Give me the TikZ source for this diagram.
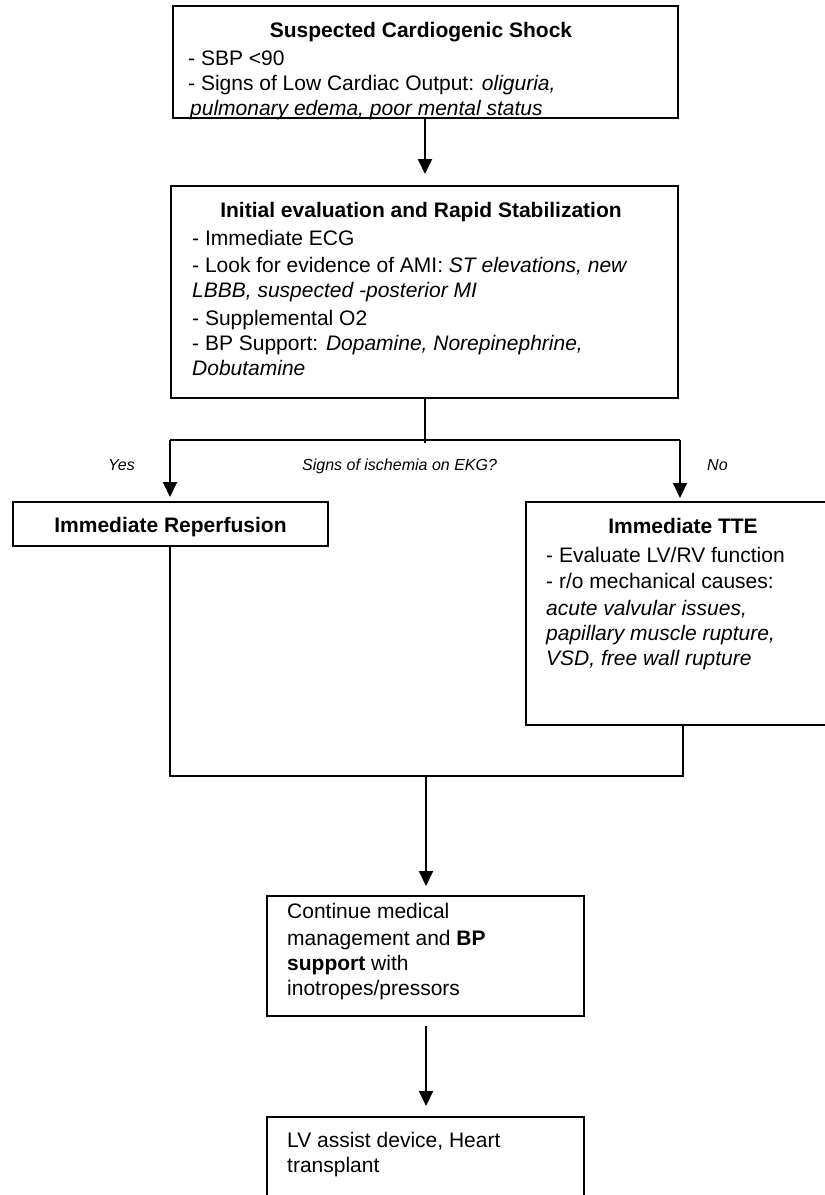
\documentclass[tikz,border=0pt]{standalone}
\usepackage{fontspec}
\setmainfont{Liberation Sans}
\usetikzlibrary{arrows.meta}

\begin{document}
\begin{tikzpicture}[x=1pt,y=-1pt,
  box/.style={draw, line width=2pt, inner sep=0pt, rectangle},
  txt/.style={inner sep=0pt, anchor=base west, font=\fontsize{21}{26}\selectfont},
  ttl/.style={inner sep=0pt, anchor=base, font=\fontsize{21}{26}\selectfont\bfseries},
  lbl/.style={inner sep=0pt, anchor=base west, font=\fontsize{16}{19}\selectfont\itshape},
  link/.style={line width=2pt},
  flow/.style={link, -{Triangle[width=14pt,length=15pt]}},
]
\useasboundingbox (0,0) rectangle (825,1195);
\fill[white] (0,0) rectangle (825,1195);
\clip (0,0) rectangle (825,1195);

% boxes
\node[box, minimum width=505pt, minimum height=112pt] (shock)  at (425.5,62)    {};
\node[box, minimum width=507pt, minimum height=212pt] (eval)   at (424.5,292)   {};
\node[box, minimum width=315pt, minimum height=44pt]  (reperf) at (170.5,524)   {};
\node[box, minimum width=315pt, minimum height=223pt] (tte)    at (683.5,613.5) {};
\node[box, minimum width=317pt, minimum height=120pt] (cont)   at (425.5,956)   {};
\node[box, minimum width=317pt, minimum height=120pt] (lvad)   at (425.5,1177)  {};

% suspected shock
\node[ttl] (shock-t) at (421,37) {Suspected Cardiogenic Shock};
\node[txt] (shock-1) at (188,65) {- SBP <90};
\node[txt] (shock-2) at (188,90) {- Signs of Low Cardiac Output: \textit{oliguria,}};
\node[txt] (shock-3) at (190,115) {\textit{pulmonary edema, poor mental status}};

% initial evaluation
\node[ttl] (eval-t) at (421,217) {Initial evaluation and Rapid Stabilization};
\node[txt] (eval-1) at (192,245) {- Immediate ECG};
\node[txt] (eval-2) at (192,272) {- Look for evidence of AMI: \textit{ST elevations, new}};
\node[txt] (eval-3) at (192,297) {\textit{LBBB, suspected -posterior MI}};
\node[txt] (eval-4) at (192,325) {- Supplemental O2};
\node[txt] (eval-5) at (192,350) {- BP Support: \textit{Dopamine, Norepinephrine,}};
\node[txt] (eval-6) at (192,375) {\textit{Dobutamine}};

% branches
\node[ttl] (reperf-t) at (170.5,532) {Immediate Reperfusion};
\node[ttl] (tte-t) at (683,533) {Immediate TTE};
\node[txt] (tte-1) at (546,562) {- Evaluate LV/RV function};
\node[txt] (tte-2) at (546,588) {- r/o mechanical causes:};
\node[txt] (tte-3) at (546,615) {\textit{acute valvular issues,}};
\node[txt] (tte-4) at (546,640) {\textit{papillary muscle rupture,}};
\node[txt] (tte-5) at (546,665) {\textit{VSD, free wall rupture}};

% later steps
\node[txt] (cont-1) at (287,918) {Continue medical};
\node[txt] (cont-2) at (287,945) {management and \textbf{BP}};
\node[txt] (cont-3) at (287,970) {\textbf{support} with};
\node[txt] (cont-4) at (287,995) {inotropes/pressors};
\node[txt] (lvad-1) at (287,1147) {LV assist device, Heart};
\node[txt] (lvad-2) at (287,1172) {transplant};

% decision labels
\node[lbl] (yes-l) at (108,470) {Yes};
\node[lbl] (q-l) at (302,470) {Signs of ischemia on EKG?};
\node[lbl] (no-l) at (707,470) {No};

% connector anchor points on whole-pixel columns
\coordinate (fork)  at (425,440);
\coordinate (drop)  at (425,443);
\coordinate (yes)   at (170,440);
\coordinate (no)    at (680,440);
\coordinate (merge) at (426,776);
\coordinate (ttex)  at (683,776);

\draw[flow, shorten >=11pt] (fork |- shock.south) -- (fork |- eval.north);
\draw[link] (fork |- eval.south) -- (drop);
\draw[link] (yes) -- (no);
\draw[flow, shorten >=4pt] (yes) -- (yes |- reperf.north);
\draw[flow, shorten >=3pt] (no) -- (no |- tte.north);
\draw[link] (yes |- reperf.south) |- (merge) -- (ttex) -- (ttex |- tte.south);
\draw[flow, shorten >=9pt] (merge) -- (merge |- cont.north);
\draw[flow, shorten <=9pt, shorten >=10pt] (merge |- cont.south) -- (merge |- lvad.north);
\end{tikzpicture}
\end{document}
